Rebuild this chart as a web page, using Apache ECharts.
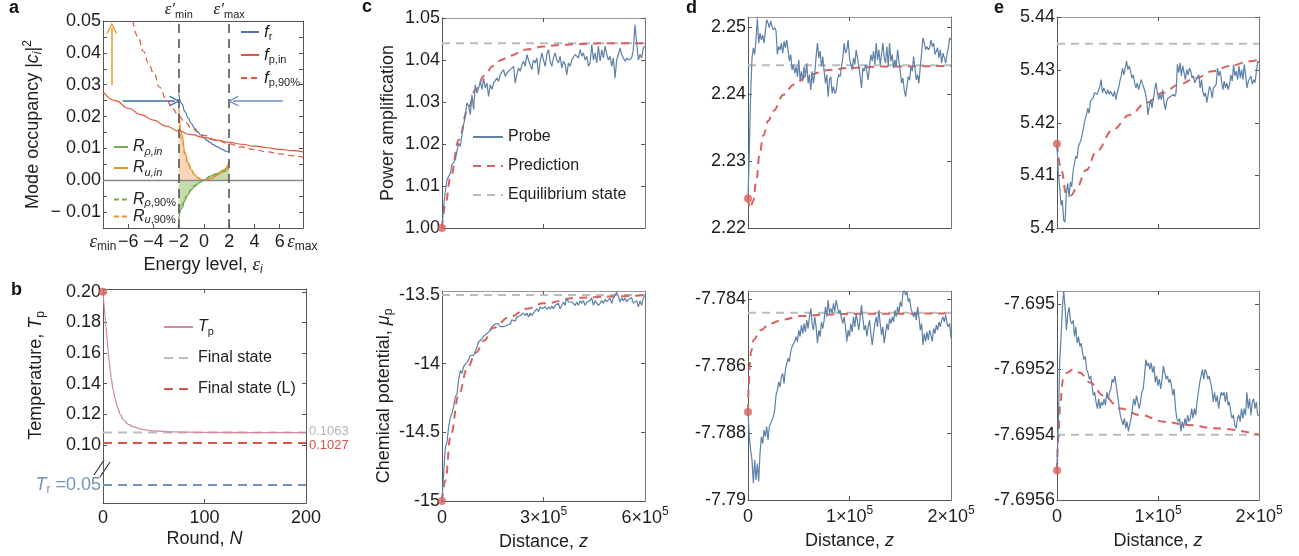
<!DOCTYPE html>
<html><head><meta charset="utf-8">
<script src="https://cdn.jsdelivr.net/npm/echarts@6/dist/echarts.min.js"></script>
<style>html,body{margin:0;padding:0;background:#fff}#c{width:1299px;height:556px}</style>
</head><body><div id="c"></div>
<script>
// ---------------- DATA ----------------
// Panel a
const aFrE   = [-2,-1.75,-1.5,-1.25,-1,-0.75,-0.5,-0.25,0,0.25,0.5,0.75,1,1.25,1.5,1.75,2];
const aFrV   = [0.0272,0.0240,0.0215,0.0195,0.0178,0.0164,0.0152,0.0142,0.0133,0.0125,0.0118,0.0112,0.0106,0.0101,0.0096,0.0091,0.0087];
const aFpInE = [-8,-7,-6,-5,-4,-3,-2,-1,0,1,2,3,4,5,6,7,7.85];
const aFpInV = [0.0278,0.0250,0.0226,0.0206,0.0189,0.0170,0.0154,0.0143,0.0134,0.0126,0.0119,0.0113,0.0107,0.0102,0.0097,0.0093,0.0089];
const aFp90E = [-5.63,-5.2,-4.8,-4.4,-4,-3.5,-3,-2.5,-2,-1.5,-1,-0.5,0,1,2,3,4,5,6,7,7.85];
const aFp90V = [0.05,0.0448,0.0405,0.0368,0.0338,0.0292,0.0255,0.0225,0.0202,0.0182,0.0166,0.0152,0.0141,0.0126,0.0114,0.0104,0.0096,0.0089,0.0083,0.0077,0.0072];
const aRE    = [-2,-1.75,-1.5,-1.25,-1,-0.75,-0.5,-0.25,0,0.5,1,1.5,2];
const aRhoIn = [-0.0122,-0.0088,-0.0063,-0.0045,-0.0031,-0.0020,-0.0012,-0.0005,0,0.0013,0.0021,0.0030,0.0040];
const aUIn   = [0.0228,0.0145,0.0088,0.0055,0.0033,0.0018,0.0009,0.0003,0,0.0004,0.0015,0.0032,0.0058];
const aRho90 = [-0.0106,-0.0077,-0.0055,-0.0039,-0.0027,-0.0017,-0.0010,-0.0004,0,0.0011,0.0018,0.0026,0.0034];
const aU90   = [0.0195,0.0128,0.0080,0.0050,0.0030,0.0017,0.0008,0.0002,0,0.0003,0.0013,0.0029,0.0051];
const aEpsPrime = [-2, 2];
const aArrowUp = [[-7.3,0.030],[-7.3,0.0478]];
const aArrowL  = [[-6.45,0.0249],[-2.3,0.0249]];
const aArrowR  = [[6.25,0.0249],[2.3,0.0249]];
// Panel b
const bN  = [0,1,2,3,4,5,6,7,8,10,12,14,17,20,25,30,40,50,70,100,150,200];
const bTp = [0.2,0.192,0.184,0.177,0.169,0.162,0.155,0.149,0.144,0.136,0.130,0.125,0.120,0.1165,0.1135,0.1118,0.110,0.1092,0.1085,0.1082,0.1081,0.1081];
const bFinal = 0.1081, bFinalL = 0.1013, bTr = 0.05;
const bFinalLabel = '0.1063', bFinalLLabel = '0.1027';
// Panel c (z from 0 to 6e5)
const cTopProbe = [1.0000,1.0052,1.0087,1.0115,1.0119,1.0131,1.0151,1.0156,1.0163,1.0183,1.0202,1.0194,1.0222,1.0246,1.0266,1.0298,1.0290,1.0270,1.0317,1.0282,1.0341,1.0321,1.0333,1.0349,1.0330,1.0357,1.0333,1.0345,1.0313,1.0341,1.0330,1.0345,1.0341,1.0357,1.0349,1.0365,1.0361,1.0377,1.0361,1.0369,1.0373,1.0377,1.0373,1.0385,1.0345,1.0365,1.0381,1.0373,1.0389,1.0397,1.0385,1.0413,1.0400,1.0389,1.0377,1.0400,1.0393,1.0405,1.0365,1.0397,1.0417,1.0400,1.0385,1.0413,1.0425,1.0397,1.0385,1.0405,1.0417,1.0400,1.0393,1.0409,1.0381,1.0397,1.0389,1.0365,1.0393,1.0385,1.0400,1.0397,1.0413,1.0417,1.0405,1.0425,1.0409,1.0417,1.0400,1.0409,1.0385,1.0393,1.0437,1.0400,1.0417,1.0393,1.0433,1.0397,1.0425,1.0405,1.0433,1.0413,1.0400,1.0409,1.0385,1.0405,1.0357,1.0400,1.0413,1.0429,1.0413,1.0405,1.0397,1.0405,1.0400,1.0400,1.0405,1.0425,1.0484,1.0440,1.0400,1.0413,1.0405,1.0429,1.0433];
const cTopPredZ = [0,1e4,2.5e4,5e4,7.5e4,1e5,1.25e5,1.5e5,1.75e5,2e5,2.5e5,3e5,3.5e5,4e5,5e5,6e5];
const cTopPredV = [1.0,1.0055,1.012,1.021,1.028,1.033,1.0363,1.0385,1.04,1.041,1.0425,1.0432,1.0436,1.0438,1.044,1.044];
const cTopEq = 1.044;
const cBotProbe = [-15.00,-14.80,-14.61,-14.57,-14.46,-14.39,-14.36,-14.31,-14.24,-14.22,-14.12,-14.05,-14.07,-14.02,-14.03,-13.99,-13.97,-13.94,-13.95,-13.94,-13.91,-13.88,-13.84,-13.83,-13.82,-13.80,-13.80,-13.78,-13.77,-13.755,-13.73,-13.72,-13.71,-13.72,-13.71,-13.73,-13.72,-13.73,-13.74,-13.72,-13.73,-13.71,-13.68,-13.67,-13.69,-13.66,-13.67,-13.65,-13.66,-13.63,-13.65,-13.63,-13.66,-13.63,-13.65,-13.63,-13.62,-13.60,-13.62,-13.585,-13.60,-13.61,-13.585,-13.605,-13.585,-13.60,-13.58,-13.60,-13.575,-13.585,-13.56,-13.60,-13.575,-13.55,-13.575,-13.52,-13.55,-13.56,-13.55,-13.56,-13.575,-13.55,-13.575,-13.54,-13.56,-13.54,-13.575,-13.55,-13.56,-13.54,-13.52,-13.575,-13.54,-13.55,-13.575,-13.56,-13.54,-13.56,-13.53,-13.55,-13.54,-13.52,-13.56,-13.52,-13.53,-13.48,-13.51,-13.55,-13.52,-13.54,-13.52,-13.55,-13.53,-13.54,-13.52,-13.56,-13.55,-13.54,-13.585,-13.54,-13.575,-13.52,-13.505];
const cBotPredZ = [0,1e4,2.5e4,5e4,7.5e4,1e5,1.25e5,1.5e5,2e5,2.5e5,3e5,4e5,5e5,6e5];
const cBotPredV = [-15,-14.85,-14.53,-14.22,-14.03,-13.92,-13.83,-13.74,-13.66,-13.6,-13.56,-13.52,-13.51,-13.5];
const cBotEq = -13.5;
// Panel d (z from 0 to 2e5)
const dTopProbe = [2.2244,2.2316,2.2401,2.2454,2.2469,2.2459,2.2481,2.2513,2.2476,2.2491,2.2481,2.2488,2.2476,2.2494,2.2511,2.2506,2.2499,2.2509,2.2501,2.2496,2.2499,2.2494,2.2459,2.2471,2.2466,2.2476,2.2461,2.2479,2.2469,2.2481,2.2466,2.2449,2.2459,2.2436,2.2444,2.2431,2.2441,2.2426,2.2451,2.2421,2.2434,2.2419,2.2441,2.2426,2.2446,2.2416,2.2429,2.2406,2.2434,2.2416,2.2431,2.2456,2.2476,2.2454,2.2464,2.2441,2.2456,2.2434,2.2416,2.2429,2.2396,2.2421,2.2426,2.2401,2.2411,2.2401,2.2404,2.2421,2.2429,2.2426,2.2441,2.2454,2.2476,2.2461,2.2466,2.2481,2.2454,2.2444,2.2436,2.2454,2.2444,2.2466,2.2454,2.2441,2.2426,2.2409,2.2439,2.2434,2.2444,2.2434,2.2421,2.2441,2.2459,2.2449,2.2464,2.2444,2.2476,2.2451,2.2466,2.2444,2.2459,2.2476,2.2454,2.2446,2.2471,2.2441,2.2476,2.2449,2.2459,2.2439,2.2451,2.2441,2.2466,2.2449,2.2434,2.2416,2.2424,2.2406,2.2396,2.2411,2.2426,2.2421,2.2441,2.2434,2.2456,2.2439,2.2421,2.2429,2.2416,2.2441,2.2461,2.2484,2.2476,2.2466,2.2471,2.2466,2.2469,2.2481,2.2471,2.2476,2.2459,2.2461,2.2469,2.2454,2.2466,2.2446,2.2461,2.2454,2.2446,2.2459,2.2469,2.2484,2.2481];
const dTopPredZ = [0,2e3,5e3,8e3,11.5e3,15e3,20e3,25e3,35e3,45e3,60e3,80e3,100e3,130e3,200e3];
const dTopPredV = [2.2244,2.2229,2.2240,2.2268,2.2311,2.2338,2.2360,2.2375,2.2399,2.2414,2.2429,2.2436,2.2439,2.2441,2.2442];
const dTopEq = 2.2443;
const dBotProbe = [-7.78736,-7.78811,-7.78851,-7.78881,-7.78950,-7.78881,-7.78940,-7.78891,-7.78945,-7.78861,-7.78811,-7.78831,-7.78791,-7.78811,-7.78781,-7.78821,-7.78781,-7.78771,-7.78761,-7.78751,-7.78731,-7.78687,-7.78672,-7.78647,-7.78662,-7.78632,-7.78622,-7.78652,-7.78612,-7.78592,-7.78577,-7.78587,-7.78557,-7.78542,-7.78537,-7.78527,-7.78512,-7.78527,-7.78493,-7.78512,-7.78478,-7.78503,-7.78473,-7.78498,-7.78463,-7.78488,-7.78453,-7.78428,-7.78473,-7.78493,-7.78453,-7.78483,-7.78532,-7.78493,-7.78512,-7.78468,-7.78488,-7.78463,-7.78423,-7.78453,-7.78403,-7.78443,-7.78428,-7.78443,-7.78413,-7.78438,-7.78403,-7.78423,-7.78443,-7.78433,-7.78458,-7.78473,-7.78453,-7.78483,-7.78527,-7.78493,-7.78512,-7.78473,-7.78498,-7.78453,-7.78483,-7.78443,-7.78468,-7.78493,-7.78453,-7.78418,-7.78458,-7.78493,-7.78478,-7.78512,-7.78483,-7.78463,-7.78503,-7.78537,-7.78503,-7.78473,-7.78453,-7.78483,-7.78433,-7.78473,-7.78508,-7.78483,-7.78532,-7.78503,-7.78473,-7.78493,-7.78458,-7.78473,-7.78453,-7.78468,-7.78433,-7.78453,-7.78423,-7.78443,-7.78408,-7.78423,-7.78383,-7.78373,-7.78388,-7.78378,-7.78408,-7.78398,-7.78428,-7.78423,-7.78453,-7.78438,-7.78463,-7.78423,-7.78453,-7.78493,-7.78473,-7.78537,-7.78503,-7.78527,-7.78498,-7.78522,-7.78493,-7.78508,-7.78527,-7.78488,-7.78503,-7.78478,-7.78493,-7.78468,-7.78483,-7.78463,-7.78453,-7.78468,-7.78448,-7.78473,-7.78483,-7.78473,-7.78517];
const dBotPredZ = [0,700,1600,3000,5600,12200,22000,35000,52000,78000,111000,200000];
const dBotPredV = [-7.78737,-7.78662,-7.78602,-7.78557,-7.78522,-7.78493,-7.78473,-7.78461,-7.78451,-7.78446,-7.78444,-7.78443];
const dBotEq = -7.78441;
// Panel e (z from 0 to 2e5)
const eTopProbe = [5.4160,5.4104,5.4078,5.4043,5.4053,5.4015,5.4011,5.4066,5.4085,5.4059,5.4088,5.4078,5.4107,5.4123,5.4136,5.4132,5.4155,5.4161,5.4168,5.4180,5.4193,5.4206,5.4215,5.4228,5.4218,5.4241,5.4244,5.4247,5.4257,5.4260,5.4254,5.4257,5.4269,5.4282,5.4257,5.4266,5.4260,5.4254,5.4263,5.4254,5.4260,5.4263,5.4250,5.4260,5.4244,5.4257,5.4266,5.4279,5.4289,5.4304,5.4291,5.4304,5.4317,5.4301,5.4308,5.4298,5.4285,5.4291,5.4276,5.4266,5.4276,5.4263,5.4273,5.4282,5.4273,5.4266,5.4257,5.4244,5.4215,5.4231,5.4244,5.4228,5.4244,5.4263,5.4276,5.4257,5.4244,5.4254,5.4244,5.4263,5.4238,5.4225,5.4241,5.4247,5.4244,5.4250,5.4247,5.4254,5.4250,5.4257,5.4311,5.4295,5.4314,5.4289,5.4308,5.4295,5.4282,5.4301,5.4291,5.4304,5.4298,5.4285,5.4289,5.4276,5.4282,5.4279,5.4291,5.4266,5.4282,5.4260,5.4250,5.4257,5.4238,5.4254,5.4269,5.4263,5.4247,5.4266,5.4263,5.4273,5.4304,5.4289,5.4298,5.4279,5.4263,5.4279,5.4266,5.4276,5.4263,5.4273,5.4291,5.4279,5.4311,5.4289,5.4298,5.4282,5.4308,5.4285,5.4301,5.4282,5.4311,5.4291,5.4266,5.4279,5.4276,5.4289,5.4273,5.4282,5.4276,5.4279,5.4317,5.4314];
const eTopPredZ = [0,4300,9200,14000,19100,29000,39000,55400,72000,88400,105000,121000,138000,154000,171000,191000,200000];
const eTopPredV = [5.416,5.411,5.4064,5.4062,5.4075,5.411,5.4145,5.4187,5.4215,5.4238,5.4257,5.4273,5.4285,5.4298,5.4308,5.4317,5.432];
const eTopEq = 5.435;
const eBotProbe = [-7.69550,-7.69536,-7.69518,-7.69510,-7.69501,-7.69496,-7.69501,-7.69508,-7.69503,-7.69501,-7.69505,-7.69506,-7.69505,-7.69510,-7.69507,-7.69512,-7.69510,-7.69513,-7.69512,-7.69515,-7.69517,-7.69516,-7.69520,-7.69521,-7.69523,-7.69522,-7.69525,-7.69528,-7.69527,-7.69530,-7.69532,-7.69529,-7.69532,-7.69530,-7.69531,-7.69529,-7.69531,-7.69527,-7.69529,-7.69527,-7.69526,-7.69523,-7.69524,-7.69522,-7.69525,-7.69528,-7.69531,-7.69534,-7.69534,-7.69537,-7.69535,-7.69538,-7.69536,-7.69539,-7.69537,-7.69535,-7.69532,-7.69529,-7.69531,-7.69528,-7.69530,-7.69532,-7.69530,-7.69527,-7.69526,-7.69522,-7.69517,-7.69519,-7.69518,-7.69520,-7.69518,-7.69521,-7.69519,-7.69524,-7.69522,-7.69525,-7.69523,-7.69526,-7.69523,-7.69519,-7.69521,-7.69523,-7.69522,-7.69524,-7.69523,-7.69525,-7.69528,-7.69526,-7.69532,-7.69535,-7.69536,-7.69535,-7.69539,-7.69536,-7.69538,-7.69535,-7.69537,-7.69534,-7.69536,-7.69535,-7.69532,-7.69535,-7.69532,-7.69534,-7.69530,-7.69527,-7.69524,-7.69522,-7.69520,-7.69523,-7.69520,-7.69521,-7.69523,-7.69522,-7.69524,-7.69526,-7.69530,-7.69527,-7.69530,-7.69528,-7.69532,-7.69529,-7.69527,-7.69528,-7.69527,-7.69530,-7.69527,-7.69531,-7.69530,-7.69533,-7.69535,-7.69534,-7.69537,-7.69538,-7.69535,-7.69534,-7.69536,-7.69532,-7.69535,-7.69532,-7.69534,-7.69527,-7.69532,-7.69529,-7.69534,-7.69530,-7.69529,-7.69532,-7.69530,-7.69534,-7.69534];
const eBotPredZ = [0,1300,3300,6000,10000,16000,22700,32700,46000,62700,82700,106000,129000,156000,200000];
const eBotPredV = [-7.69551,-7.69541,-7.6953,-7.69523,-7.69521,-7.6952,-7.69521,-7.69524,-7.69528,-7.69532,-7.69534,-7.69536,-7.69537,-7.69538,-7.6954];
const eBotEq = -7.6954;

// ---------------- STYLE / HELPERS ----------------
const F = '"Liberation Sans", Arial, sans-serif';
const SERIF = '"Liberation Serif", "DejaVu Serif", serif';
const AXC = '#555';
const TC = '#1e1e1e';
const BLUE_P = '#5d81a8', RED_P = '#d9625e', GRAY_EQ = '#bcbcbc';
function range(a, b, s) { const r = []; for (let k = 0; a + k * s <= b + s * 1e-6; k++) r.push(+(a + k * s).toFixed(10)); return r; }
function zip(xs, ys) { return xs.map((x, i) => [x, ys[i]]); }
function sampled(vals, zMax) { const n = vals.length; return vals.map((v, i) => [i * zMax / (n - 1), v]); }
function rich(size) {
  const sub = Math.round(size * 0.66);
  return {
    i: {fontStyle: 'italic', fontFamily: F, fontSize: size, color: TC},
    s: {fontFamily: F, fontSize: sub, verticalAlign: 'bottom', color: TC},
    si: {fontFamily: F, fontStyle: 'italic', fontSize: sub, verticalAlign: 'bottom', color: TC},
    e: {fontFamily: SERIF, fontStyle: 'italic', fontSize: size + 1, color: TC},
    p: {fontFamily: F, fontSize: sub, verticalAlign: 'top', color: TC}
  };
}
const numFmt = v => String(parseFloat(v.toFixed(6)));
const supFmt = v => v === 0 ? '0' : Math.round(v / 1e5) + '×10{p|5}';

const grids = [], xAxes = [], yAxes = [], series = [], legends = [];
function axis(gi, pos, min, max, o) {
  o = o || {};
  const a = {
    type: 'value', gridIndex: gi, position: pos, min: min, max: max,
    splitLine: {show: false},
    axisLine: {show: o.line !== false, onZero: false, lineStyle: {color: o.lineColor || AXC, width: 1}},
    axisTick: {show: !!o.ticks, inside: true, length: o.tickLen || 4, lineStyle: {color: AXC}},
    axisLabel: {show: !!o.labels, showMinLabel: true, showMaxLabel: true, hideOverlap: false,
      margin: o.margin == null ? 4 : o.margin, fontSize: 18, fontFamily: F, color: o.labelColor || TC}
  };
  if (o.ticks) a.axisTick.customValues = o.ticks;
  if (o.labels) a.axisLabel.customValues = o.labels;
  if (o.fmt) a.axisLabel.formatter = o.fmt;
  if (o.lh) a.axisLabel.lineHeight = o.lh;
  if (o.rich) a.axisLabel.rich = o.rich;
  if (o.name) {
    a.name = o.name; a.nameLocation = 'middle'; a.nameGap = o.nameGap;
    a.nameTextStyle = {fontSize: 18, fontFamily: F, color: TC, lineHeight: 22, rich: rich(18)};
  }
  return a;
}
function panel(box, xr, yr, xb, xt, yl, yrt) {
  const gi = grids.length;
  grids.push({left: box[0], top: box[1], width: box[2], height: box[3], containLabel: false, show: false});
  xAxes.push(axis(gi, 'bottom', xr[0], xr[1], xb));
  xAxes.push(axis(gi, 'top', xr[0], xr[1], xt));
  yAxes.push(axis(gi, 'left', yr[0], yr[1], yl));
  yAxes.push(axis(gi, 'right', yr[0], yr[1], yrt));
  return 2 * gi;
}
function line(idx, name, data, color, opt) {
  opt = opt || {};
  const s = {
    type: 'line', name: name, xAxisIndex: idx, yAxisIndex: idx, data: data,
    symbol: 'none', showSymbol: false, smooth: opt.smooth || false, animation: false,
    lineStyle: {color: color, width: opt.width || 1.2, type: opt.dash || 'solid'},
    itemStyle: {color: color}, z: opt.z || 2, silent: true
  };
  if (opt.smooth) s.smoothMonotone = 'x';
  if (opt.area) s.areaStyle = {color: opt.area, opacity: 1};
  if (opt.endLabel) s.endLabel = opt.endLabel;
  series.push(s);
  return s;
}
function dot(idx, pt) {
  series.push({type: 'scatter', xAxisIndex: idx, yAxisIndex: idx, data: [pt], symbolSize: 8,
    itemStyle: {color: RED_P}, z: 10, clip: false, silent: true, animation: false});
}

// ---------------- PANEL a ----------------
const epsFmt = v => v < -7 ? '{e|ε}{s|min}' : v > 7 ? '{e|ε}{s|max}' : (v < 0 ? '−' + (-v) : String(v));
const ia = panel([103, 18, 200, 210], [-8, 7.85], [-0.015, 0.05],
  {ticks: range(-6, 6, 2), labels: [-8, -6, -4, -2, 0, 2, 4, 6, 7.8], fmt: epsFmt, rich: rich(18), lh: 22, margin: 3,
   name: 'Energy level, {e|ε}{si|i}', nameGap: 26},
  {labels: aEpsPrime, fmt: v => v < 0 ? '{e|ε′}{s|min}' : '{e|ε′}{s|max}', rich: rich(16), lh: 20, margin: 1},
  {ticks: range(-0.015, 0.05, 0.005), labels: range(-0.01, 0.05, 0.01),
   fmt: v => v < 0 ? '− ' + Math.abs(v).toFixed(2) : v.toFixed(2), margin: 2,
   name: 'Mode occupancy |{i|c}{si|i}|{p|2}', nameGap: 59},
  {ticks: range(-0.015, 0.05, 0.005)});
const aRefLines = {type: 'line', xAxisIndex: ia, yAxisIndex: ia, data: [], silent: true, z: 1,
  markLine: {silent: true, symbol: ['none', 'none'], label: {show: false}, animation: false,
    data: [
      {yAxis: 0, lineStyle: {color: '#8a8a8a', width: 1.3, type: 'solid'}},
      {xAxis: aEpsPrime[0], lineStyle: {color: '#555', width: 1.6, type: [9, 6]}},
      {xAxis: aEpsPrime[1], lineStyle: {color: '#555', width: 1.6, type: [9, 6]}}
    ]}};
series.push(aRefLines);
// fills
const nLeft = aRE.filter(e => e <= 0).length;
line(ia, 'uFill', zip(aRE.slice(0, nLeft), aUIn.slice(0, nLeft)), 'rgba(0,0,0,0)',
  {smooth: true, width: 0, area: 'rgba(240,180,130,0.55)', z: 2});
line(ia, 'R_ρ,in', zip(aRE, aRhoIn), '#7aa84a', {smooth: true, area: 'rgba(140,185,90,0.5)', z: 3});
line(ia, 'R_ρ,90%', zip(aRE, aRho90), '#7aa84a', {smooth: true, dash: [5, 3], z: 3});
line(ia, 'R_u,in', zip(aRE, aUIn), '#e8912e', {smooth: true, z: 4});
line(ia, 'R_u,90%', zip(aRE, aU90), '#e8912e', {smooth: true, dash: [5, 3], z: 4});
line(ia, 'f_r', zip(aFrE, aFrV), '#4f75b0', {smooth: true, z: 5});
line(ia, 'f_p,in', zip(aFpInE, aFpInV), '#e2553a', {smooth: true, z: 5});
line(ia, 'f_p,90%', zip(aFp90E, aFp90V), '#e2553a', {smooth: true, dash: [6, 4], z: 5});
const CHEV = 'path://M0,12 L6,0 L12,12 L10.4,12 L6,3.2 L1.6,12 Z';
function arrow(pts, color) {
  series.push({type: 'line', xAxisIndex: ia, yAxisIndex: ia, data: [], silent: true, z: 6,
    markLine: {silent: true, symbol: ['none', CHEV], symbolSize: [11, 11], label: {show: false}, animation: false,
      lineStyle: {color: color, width: 1.6, type: 'solid'},
      data: [[{coord: pts[0]}, {coord: pts[1]}]]}});
}
arrow(aArrowUp, '#f39a2b');
arrow(aArrowL, '#3f6aa8');
arrow(aArrowR, '#6f8fc0');

// ---------------- PANEL b ----------------
const ib = panel([103, 289, 203, 173], [0, 200], [0.0889, 0.2018],
  {line: false},
  {ticks: [100]},
  {ticks: range(0.10, 0.20, 0.02), labels: range(0.10, 0.20, 0.02), fmt: v => v.toFixed(2), margin: 2,
   name: 'Temperature, {i|T}{s|p}', nameGap: 56},
  {ticks: range(0.10, 0.20, 0.02)});
const ib2 = panel([103, 462, 203, 41], [0, 200], [0.0383, 0.065],
  {ticks: [100], labels: [0, 100, 200], margin: 6, name: 'Round, {i|N}', nameGap: 24},
  {line: false},
  {ticks: [bTr], labels: [bTr], fmt: v => '{i|T}{s|r} =' + v.toFixed(2), labelColor: '#7393b8', margin: 2,
   rich: {i: {fontStyle: 'italic', fontFamily: F, fontSize: 18, color: '#7393b8'},
          s: {fontFamily: F, fontSize: 12, verticalAlign: 'bottom', color: '#7393b8'}}, lh: 22},
  {ticks: [bTr]});
line(ib, 'Final state', [[0, bFinal], [200, bFinal]], '#bdbdbd', {width: 2, dash: [9, 6], z: 2,
  endLabel: {show: true, formatter: bFinalLabel, color: '#b5b5b5', fontSize: 13, fontFamily: F, distance: 3, offset: [0, -1]}});
line(ib, 'Final state (L)', [[0, bFinalL], [200, bFinalL]], '#d9534f', {width: 2, dash: [9, 6], z: 2,
  endLabel: {show: true, formatter: bFinalLLabel, color: '#d9534f', fontSize: 13, fontFamily: F, distance: 3, offset: [0, 2]}});
line(ib, 'T_p', zip(bN, bTp), '#d48a9c', {smooth: 0.3, width: 1.3, z: 3});
dot(ib, [bN[0], bTp[0]]);
line(ib2, 'T_r', [[0, bTr], [200, bTr]], '#7393b8', {width: 2, dash: [9, 6]});

// ---------------- PANELS c, d, e ----------------
function probePanel(box, zMax, yr, zTicks, yLabels, yFmt, bottomRow, yName, yNameGap, probe, predZ, predV, eq, names) {
  const idx = panel(box, [0, zMax], yr,
    bottomRow ? {ticks: zTicks, labels: [0].concat(zTicks, [zMax]), fmt: supFmt, rich: rich(18), lh: 24, margin: 5,
                 name: 'Distance, {i|z}', nameGap: 27}
              : {ticks: zTicks},
    {ticks: zTicks, lineColor: '#999'},
    {ticks: yLabels, labels: yLabels, fmt: yFmt, margin: 2, name: yName, nameGap: yNameGap},
    {ticks: yLabels, lineColor: '#777'});
  line(idx, names[2], [[0, eq], [zMax, eq]], GRAY_EQ, {width: 2, dash: [8, 6], z: 2});
  line(idx, names[1], zip(predZ, predV), RED_P, {smooth: 0.4, width: 2, dash: [8, 6], z: 3});
  line(idx, names[0], sampled(probe, zMax), BLUE_P, {width: 1.2, z: 4});
  dot(idx, [predZ[0], predV[0]]);
}
probePanel([442, 18, 203, 210], 6e5, [1.0, 1.05], [3e5], range(1.0, 1.05, 0.01), v => v.toFixed(2), false,
  'Power amplification', 43, cTopProbe, cTopPredZ, cTopPredV, cTopEq, ['Probe', 'Prediction', 'Equilibrium state']);
probePanel([442, 291, 203, 210], 6e5, [-15, -13.47], [3e5], [-15, -14.5, -14, -13.5], numFmt, true,
  'Chemical potential, {i|μ}{s|p}', 43, cBotProbe, cBotPredZ, cBotPredV, cBotEq, ['Probe c2', 'Prediction c2', 'Eq c2']);
probePanel([748, 17, 203, 211], 2e5, [2.22, 2.2515], [1e5], [2.22, 2.23, 2.24, 2.25], v => v.toFixed(2), false,
  null, 0, dTopProbe, dTopPredZ, dTopPredV, dTopEq, ['Probe d1', 'Prediction d1', 'Eq d1']);
probePanel([748, 291, 203, 209], 2e5, [-7.79, -7.78376], [1e5], [-7.79, -7.788, -7.786, -7.784], numFmt, true,
  null, 0, dBotProbe, dBotPredZ, dBotPredV, dBotEq, ['Probe d2', 'Prediction d2', 'Eq d2']);
probePanel([1057, 17, 202, 211], 2e5, [5.4, 5.4401], [1e5], [5.4, 5.41, 5.42, 5.43, 5.44], numFmt, false,
  null, 0, eTopProbe, eTopPredZ, eTopPredV, eTopEq, ['Probe e1', 'Prediction e1', 'Eq e1']);
probePanel([1057, 291, 202, 209], 2e5, [-7.6956, -7.69496], [1e5], [-7.6956, -7.6954, -7.6952, -7.695], numFmt, true,
  null, 0, eBotProbe, eBotPredZ, eBotPredV, eBotEq, ['Probe e2', 'Prediction e2', 'Eq e2']);

// ---------------- LEGENDS ----------------
const LEG = {
  'f_r': '{i|f}{s|r}', 'f_p,in': '{i|f}{s|p,in}', 'f_p,90%': '{i|f}{s|p,90%}',
  'R_ρ,in': '{i|R}{si|ρ,in}', 'R_u,in': '{i|R}{si|u,in}', 'R_ρ,90%': '{i|R}{si|ρ}{s|,90%}', 'R_u,90%': '{i|R}{si|u}{s|,90%}',
  'T_p': '{i|T}{s|p}'
};
function legend(names, left, top, itemW, gap, size, lh) {
  legends.push({show: true, orient: 'vertical', left: left, top: top, itemWidth: itemW, itemHeight: 10, itemGap: gap,
    selectedMode: false, data: names, padding: 0,
    itemStyle: {opacity: 0, borderWidth: 0},
    formatter: n => LEG[n] || n,
    textStyle: {fontSize: size, fontFamily: F, color: TC, lineHeight: lh, rich: rich(size)}});
}
legend(['f_r', 'f_p,in', 'f_p,90%'], 240, 22, 18, 3, 17, 20);
legend(['R_ρ,in', 'R_u,in'], 113, 137, 14, 1, 16, 20);
legend(['R_ρ,90%', 'R_u,90%'], 113, 191, 14, 0, 16, 17);
legend(['T_p', 'Final state', 'Final state (L)'], 163, 317, 29, 11, 16, 20);
legend(['Probe', 'Prediction', 'Equilibrium state'], 472, 127, 30, 9, 16, 20);

// ---------------- GRAPHICS (panel letters, axis break) ----------------
const letter = (t, x, y) => ({type: 'text', left: x, top: y, silent: true,
  style: {text: t, font: 'bold 18px "Liberation Sans", Arial, sans-serif', fill: '#111'}});
const graphics = [
  letter('a', 9, -1), letter('b', 11, 281), letter('c', 362, -2), letter('d', 686, -1), letter('e', 994, -1),
  {type: 'line', silent: true, shape: {x1: 94, y1: 475, x2: 104, y2: 460}, style: {stroke: '#333', lineWidth: 1.2}},
  {type: 'line', silent: true, shape: {x1: 100, y1: 477, x2: 110, y2: 462}, style: {stroke: '#333', lineWidth: 1.2}}
];

const chart = echarts.init(document.getElementById('c'), null, {renderer: 'canvas'});
chart.setOption({
  animation: false, backgroundColor: '#fff',
  textStyle: {fontFamily: F},
  grid: grids, xAxis: xAxes, yAxis: yAxes, series: series, legend: legends, graphic: graphics
});
</script></body></html>
